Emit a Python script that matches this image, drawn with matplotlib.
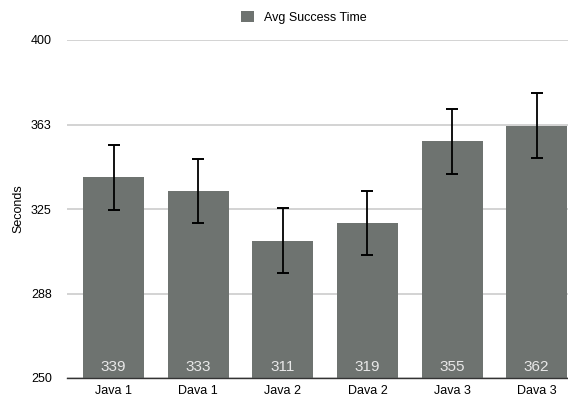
import matplotlib.pyplot as plt
import numpy as np

# ---------------------------------------------------------------------------
# Data
# ---------------------------------------------------------------------------
categories = ["Java 1", "Dava 1", "Java 2", "Dava 2", "Java 3", "Dava 3"]
avg_time = [339, 333, 311, 319, 355, 362]
err = [14.3, 14.3, 14.5, 14.2, 14.4, 14.4]
y_ticks = [250, 287.5, 325, 362.5, 400]
y_tick_labels = ["250", "288", "325", "363", "400"]

BAR_COLOR = "#6e7370"

plt.rcParams["font.family"] = ["Liberation Sans", "DejaVu Sans"]

fig = plt.figure(figsize=(5.68, 4.0), dpi=100)
ax = fig.add_axes([0.118, 0.055, 0.882, 0.845])

x = np.arange(len(categories))
ax.bar(x, avg_time, width=0.72, color=BAR_COLOR, zorder=2,
       label="Avg Success Time")
ax.errorbar(x, avg_time, yerr=err, fmt="none", ecolor="black",
            elinewidth=1.3, capsize=4.5, capthick=1.4, zorder=3)

# value labels at the foot of each bar
for xi, v in zip(x, avg_time):
    ax.annotate(str(v), (xi, 250), xytext=(0, 3), textcoords="offset points",
                ha="center", va="bottom", color="#e8e8e8", fontsize=11,
                zorder=4)

ax.set_ylim(250, 400)
ax.set_xlim(-0.55, 5.37)
ax.set_yticks(y_ticks)
ax.set_yticklabels(y_tick_labels, fontsize=9)
ax.set_xticks(x)
ax.set_xticklabels(categories, fontsize=9)
ax.tick_params(axis="y", length=0, pad=11)
ax.tick_params(axis="x", length=0, pad=5)
ax.grid(True, axis="y", color="#cccccc", linewidth=1.2, zorder=0)
ax.set_ylabel("Seconds", fontsize=9)
ax.yaxis.set_label_coords(-0.086, 0.5)

for side in ("top", "right", "left"):
    ax.spines[side].set_visible(False)
ax.spines["bottom"].set_color("#333333")
ax.spines["bottom"].set_linewidth(1.0)

fig.legend(loc="upper center", bbox_to_anchor=(0.535, 1.0), frameon=False,
           fontsize=9, handlelength=1.0, handleheight=1.0)

fig.savefig("out.png", dpi=100)
